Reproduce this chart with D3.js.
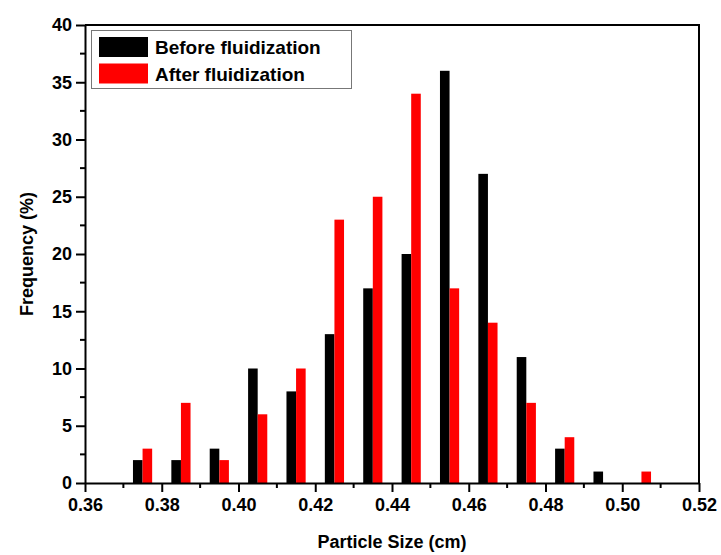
<!DOCTYPE html>
<html>
<head>
<meta charset="utf-8">
<script src="https://cdn.jsdelivr.net/npm/d3@7"></script>
<style>
  body { margin: 0; background: #fff; }
  svg text { font-family: "Liberation Sans", Arial, sans-serif; font-weight: bold; }
</style>
</head>
<body>
<svg width="721" height="555"></svg>
<script>
"use strict";

const sizes = [0.375, 0.385, 0.395, 0.405, 0.415, 0.425, 0.435, 0.445, 0.455, 0.465, 0.475, 0.485, 0.495, 0.505];
const before = [2, 2, 3, 10, 8, 13, 17, 20, 36, 27, 11, 3, 1, 0];
const after = [3, 7, 2, 6, 10, 23, 25, 34, 17, 14, 7, 4, 0, 1];
const xTicks = [0.36, 0.38, 0.40, 0.42, 0.44, 0.46, 0.48, 0.50, 0.52];
const yTicks = [0, 5, 10, 15, 20, 25, 30, 35, 40];
const seriesNames = ["Before fluidization", "After fluidization"];
const seriesColors = ["#000000", "#ff0000"];

const svg = d3.select("svg");
const margin = { left: 85, right: 22, top: 25, bottom: 72 };
const width = +svg.attr("width");
const height = +svg.attr("height");

const x = d3.scaleLinear().domain([0.36, 0.52]).range([margin.left, width - margin.right]);
const y = d3.scaleLinear().domain([0, 40]).range([height - margin.bottom, margin.top]);
const barW = 0.0025;

const series = [before, after];
series.forEach((vals, s) => {
  svg.append("g")
    .selectAll("rect")
    .data(vals.map((v, i) => ({ x: sizes[i], v })))
    .enter()
    .append("rect")
    .attr("x", d => x(d.x - barW + s * barW))
    .attr("width", d => x(d.x + barW) - x(d.x))
    .attr("y", d => y(d.v))
    .attr("height", d => y(0) - y(d.v))
    .attr("fill", seriesColors[s]);
});

// frame (top and right)
svg.append("path")
  .attr("d", `M${x(0.36)},${y(40)}H${x(0.52)}V${y(0)}`)
  .attr("fill", "none")
  .attr("stroke", "#000")
  .attr("stroke-width", 2);

// minor ticks
const xMinor = d3.range(0.37, 0.52, 0.02);
svg.append("g")
  .selectAll("line")
  .data(xMinor)
  .enter()
  .append("line")
  .attr("x1", d => x(d)).attr("x2", d => x(d))
  .attr("y1", y(0)).attr("y2", y(0) + 5)
  .attr("stroke", "#000").attr("stroke-width", 2);

const yMinor = d3.range(2.5, 40, 5);
svg.append("g")
  .selectAll("line")
  .data(yMinor)
  .enter()
  .append("line")
  .attr("y1", d => y(d)).attr("y2", d => y(d))
  .attr("x1", x(0.36)).attr("x2", x(0.36) - 5)
  .attr("stroke", "#000").attr("stroke-width", 2);

const xAxis = svg.append("g")
  .attr("transform", `translate(0,${y(0)})`)
  .call(d3.axisBottom(x).tickValues(xTicks).tickFormat(d3.format(".2f")).tickSize(9).tickPadding(6).tickSizeOuter(0));

const yAxis = svg.append("g")
  .attr("transform", `translate(${x(0.36)},0)`)
  .call(d3.axisLeft(y).tickValues(yTicks).tickSize(9).tickPadding(4).tickSizeOuter(0));

[xAxis, yAxis].forEach(g => {
  g.select(".domain").attr("stroke-width", 2);
  g.selectAll(".tick line").attr("stroke-width", 2);
  g.selectAll(".tick text")
    .attr("fill", "#000")
    .style("font-size", "18px")
    .style("font-family", "'Liberation Sans', Arial, sans-serif")
    .style("font-weight", "bold");
});

svg.append("text")
  .attr("x", (x(0.36) + x(0.52)) / 2)
  .attr("y", 548)
  .attr("text-anchor", "middle")
  .style("font-size", "18px")
  .text("Particle Size (cm)");

svg.append("text")
  .attr("transform", `translate(33,${(y(0) + y(40)) / 2}) rotate(-90)`)
  .attr("text-anchor", "middle")
  .style("font-size", "18px")
  .text("Frequency (%)");

// legend
const legend = svg.append("g");
legend.append("rect")
  .attr("x", 91.5).attr("y", 30.5)
  .attr("width", 260).attr("height", 58)
  .attr("fill", "#fff")
  .attr("stroke", "#777")
  .attr("stroke-width", 1);

seriesNames.forEach((name, i) => {
  legend.append("rect")
    .attr("x", 99).attr("y", 37 + i * 26.5)
    .attr("width", 49).attr("height", 20)
    .attr("fill", seriesColors[i]);
  legend.append("text")
    .attr("x", 155).attr("y", 54 + i * 27)
    .style("font-size", "19px")
    .text(name);
});
</script>
</body>
</html>
